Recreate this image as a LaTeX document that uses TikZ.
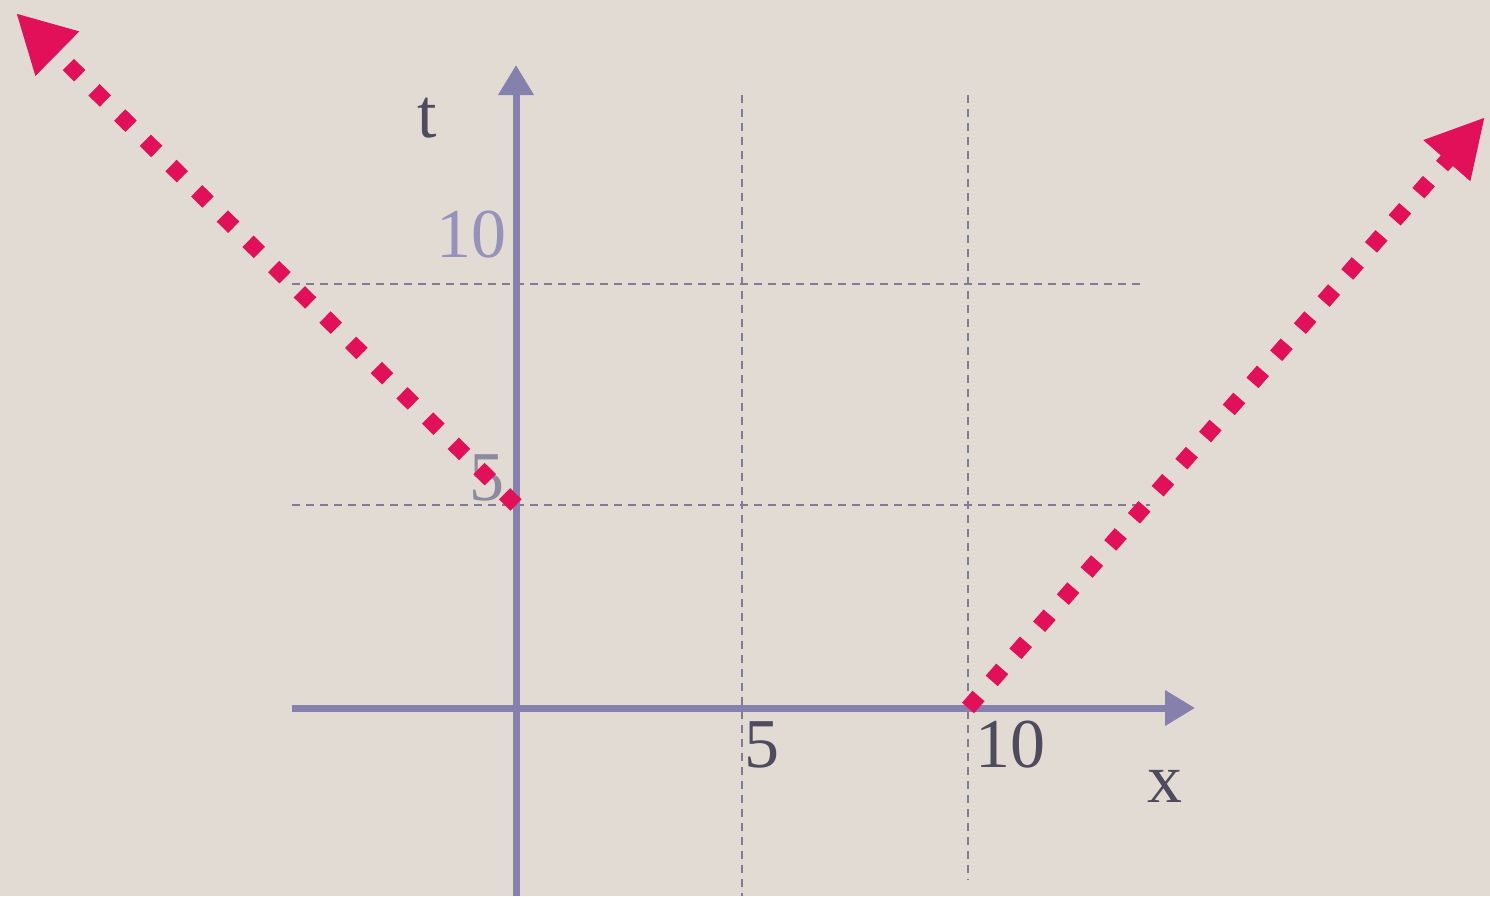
\documentclass[tikz,border=0pt]{standalone}
\usepackage{fontspec}
\setmainfont{Liberation Serif}
\usetikzlibrary{arrows.meta}
\definecolor{Papel}{RGB}{226,219,212}
\definecolor{Lila}{RGB}{134,128,172}
\definecolor{LilaClaro}{RGB}{150,146,188}
\definecolor{GrisLila}{RGB}{140,138,158}
\definecolor{Rejilla}{RGB}{128,124,152}
\definecolor{Tinta}{RGB}{78,75,92}
\definecolor{Carmin}{RGB}{226,16,88}

\begin{document}
\begin{tikzpicture}[x=0.5pt, y=-0.5pt,
        eje/.style={draw=Lila, line width=3.5pt, -{Triangle[length=15pt, width=17pt]}},
        rejilla/.style={draw=Rejilla, line width=0.7pt, dash pattern=on 4pt off 3pt},
        rayo/.style={draw=Carmin, line width=8pt, dash pattern=on 8pt off 10pt, -{Triangle[length=29pt, width=29pt]}},
        etiqueta/.style={font=\fontsize{35}{40}\selectfont, inner sep=0pt, anchor=base, text=Tinta}
    ]%
        % ================= FONDO Y MARCO =================
        \useasboundingbox (0,0) rectangle (1490,896);
        \fill[Papel] (0,0) rectangle (1490,896);
        % ================= PUNTOS DE REFERENCIA (EN PIXELES) =================
        \coordinate (origen) at (516,708);
        \coordinate (xini) at (292,708);
        \coordinate (xfin) at (1195,708);
        \coordinate (tini) at (516,896);
        \coordinate (tfin) at (516,65);
        \coordinate (p5) at (516,505);
        \coordinate (p10) at (968,708);
        \coordinate (punta_izq) at (16,13);
        \coordinate (punta_der) at (1485,117);
        % ================= REJILLA DISCONTINUA =================
        \draw[rejilla] (742,95) -- (742,896);
        \draw[rejilla] (968,95) -- (968,880);
        \draw[rejilla] (292,284) -- (1140,284);
        \draw[rejilla] (292,505) -- (1150,505);
        % ================= EJES x Y t =================
        \draw[eje] (xini) -- (xfin);
        \draw[eje] (tini) -- (tfin);
        % ================= ETIQUETAS =================
        \node[etiqueta] (lt) at (427,137) {t};
        \node[etiqueta, text=LilaClaro] (lt10) at (471,257) {10};
        \node[etiqueta, text=GrisLila] (lt5) at (487,500) {5};
        \node[etiqueta] (lx5) at (762,767) {5};
        \node[etiqueta] (lx10) at (1010,767) {10};
        \node[etiqueta] (lx) at (1165,802) {x};
        % ================= RAYOS PUNTEADOS =================
        \draw[rayo] (p5) -- (punta_izq);
        \draw[rayo] (p10) -- (punta_der);
    \end{tikzpicture}
\end{document}
